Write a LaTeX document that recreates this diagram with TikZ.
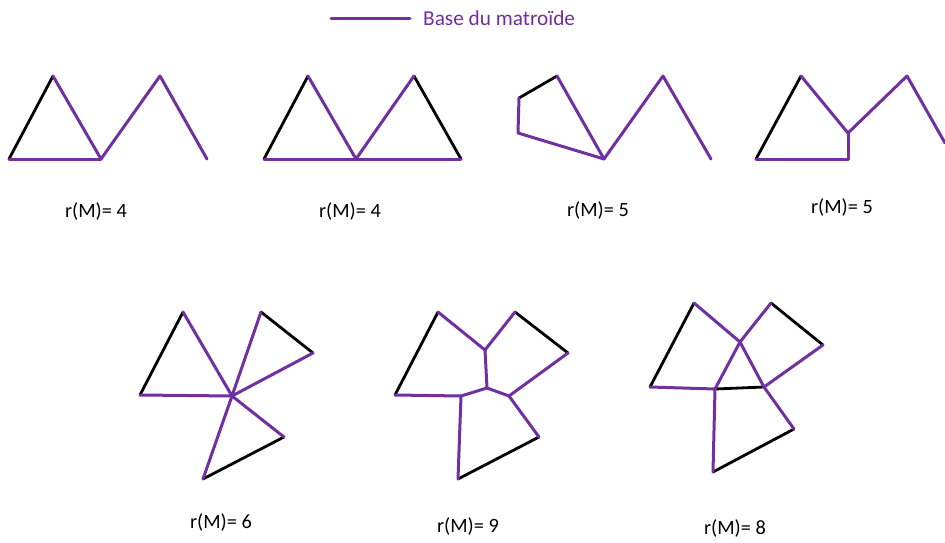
\documentclass[tikz,border=0pt]{standalone}
\usepackage{fontspec}
\setmainfont{Carlito}
\definecolor{basepurple}{HTML}{7030A0}
\tikzset{
  base/.style={draw=basepurple, line width=3pt, line cap=round, line join=round},
  other/.style={draw=black, line width=2.8pt, line cap=round, line join=round},
  rank/.style={font=\fontsize{20.3}{24}\selectfont, text=black, inner sep=0pt, anchor=center},
  legendtext/.style={font=\fontsize{21.3}{24}\selectfont, text=basepurple, inner sep=0pt, anchor=west}
}
\begin{document}
\begin{tikzpicture}[x=1pt,y=-1pt]
\useasboundingbox (0,0) rectangle (945,543);
% legend
\coordinate (l1) at (331,19);
\coordinate (l2) at (410,19);
\draw[base] (l1) -- (l2);
\node[legendtext] (leg) at (423,18) {Base du matroïde};

% diagram 1
\coordinate (a1) at (9,159);
\coordinate (b1) at (53,76);
\coordinate (c1) at (101,159);
\coordinate (d1) at (160,76);
\coordinate (e1) at (207,159);
\draw[other] (a1) -- (b1);
\draw[base] (a1) -- (c1);
\draw[base] (b1) -- (c1) -- (d1) -- (e1);
\node[rank] (r1) at (96,211) {r(M)= 4};

% diagram 2
\coordinate (a2) at (264,159);
\coordinate (b2) at (308,76);
\coordinate (c2) at (356,159);
\coordinate (d2) at (414,76);
\coordinate (e2) at (461,159);
\draw[other] (a2) -- (b2);
\draw[other] (d2) -- (e2);
\draw[base] (a2) -- (c2) -- (e2);
\draw[base] (b2) -- (c2) -- (d2);
\node[rank] (r2) at (350,211) {r(M)= 4};

% diagram 3
\coordinate (p3) at (519,98);
\coordinate (q3) at (557,76);
\coordinate (s3) at (518,133);
\coordinate (c3) at (604,159);
\coordinate (d3) at (663,76);
\coordinate (e3) at (711,159);
\draw[other] (p3) -- (q3);
\draw[base] (p3) -- (s3) -- (c3);
\draw[base] (q3) -- (c3) -- (d3) -- (e3);
\node[rank] (r3) at (598,210) {r(M)= 5};

% diagram 4
\coordinate (a4) at (756,159);
\coordinate (b4) at (801,76);
\coordinate (m4) at (848,133);
\coordinate (f4) at (848,159);
\coordinate (d4) at (907,76);
\coordinate (e4) at (945,143);
\draw[other] (a4) -- (b4);
\draw[base] (a4) -- (f4) -- (m4);
\draw[base] (b4) -- (m4) -- (d4) -- (e4);
\node[rank] (r4) at (842,207) {r(M)= 5};

% diagram 5
\coordinate (a5) at (140,395);
\coordinate (b5) at (183,312);
\coordinate (c5) at (232,396);
\coordinate (d5) at (261,312);
\coordinate (e5) at (313,353);
\coordinate (f5) at (284,437);
\coordinate (g5) at (203,479);
\draw[other] (a5) -- (b5);
\draw[other] (d5) -- (e5);
\draw[other] (f5) -- (g5);
\draw[base] (a5) -- (c5);
\draw[base] (b5) -- (c5);
\draw[base] (c5) -- (d5);
\draw[base] (c5) -- (e5);
\draw[base] (c5) -- (f5);
\draw[base] (c5) -- (g5);
\node[rank] (r5) at (221,522) {r(M)= 6};

% diagram 6
\coordinate (a6) at (395,395);
\coordinate (b6) at (438,312);
\coordinate (h6) at (485,350);
\coordinate (d6) at (515,312);
\coordinate (e6) at (568,353);
\coordinate (i6) at (487,388);
\coordinate (j6) at (461,396);
\coordinate (k6) at (509,396);
\coordinate (f6) at (539,437);
\coordinate (g6) at (458,479);
\draw[other] (a6) -- (b6);
\draw[other] (d6) -- (e6);
\draw[other] (f6) -- (g6);
\draw[base] (b6) -- (h6) -- (d6);
\draw[base] (h6) -- (i6);
\draw[base] (a6) -- (j6) -- (i6) -- (k6) -- (e6);
\draw[base] (k6) -- (f6);
\draw[base] (g6) -- (j6);
\node[rank] (r6) at (468,526) {r(M)= 9};

% diagram 7
\coordinate (a7) at (650,387);
\coordinate (b7) at (694,303);
\coordinate (x7) at (740,342);
\coordinate (d7) at (771,303);
\coordinate (e7) at (823,345);
\coordinate (j7) at (715,389);
\coordinate (k7) at (764,387);
\coordinate (f7) at (794,429);
\coordinate (g7) at (713,472);
\draw[other] (a7) -- (b7);
\draw[other] (d7) -- (e7);
\draw[other] (f7) -- (g7);
\draw[other] (j7) -- (k7);
\draw[base] (b7) -- (x7) -- (d7);
\draw[base] (x7) -- (k7) -- (e7);
\draw[base] (x7) -- (j7);
\draw[base] (a7) -- (j7) -- (g7);
\draw[base] (k7) -- (f7);
\node[rank] (r7) at (735,528) {r(M)= 8};
\end{tikzpicture}
\end{document}
